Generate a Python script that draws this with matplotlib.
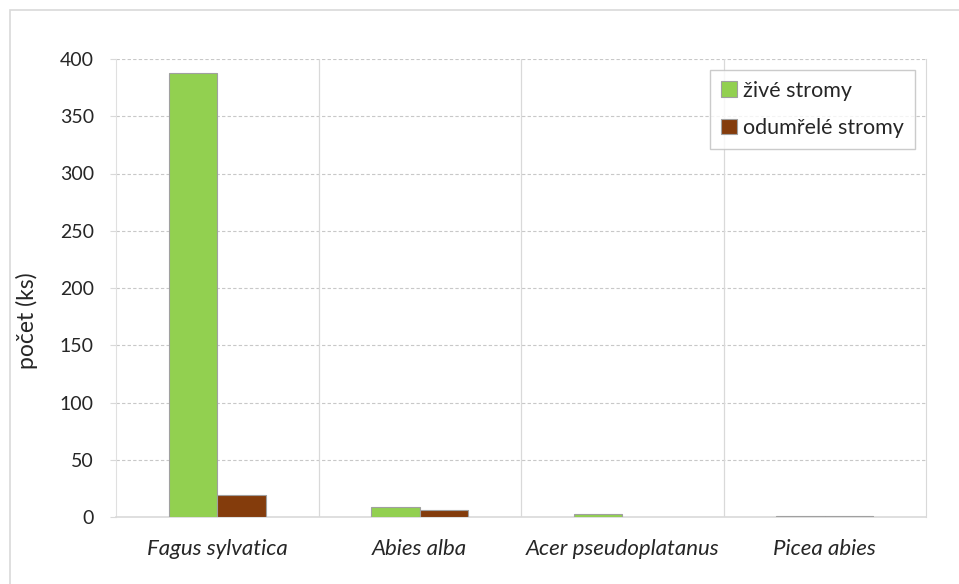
import matplotlib
matplotlib.use("Agg")
import matplotlib.pyplot as plt
import numpy as np
from matplotlib.patches import Rectangle

species = ["Fagus sylvatica", "Abies alba", "Acer pseudoplatanus", "Picea abies"]
live = [388, 9, 3, 1]
dead = [19, 6, 0, 1]
series_names = ["živé stromy", "odumřelé stromy"]
y_ticks = [0, 50, 100, 150, 200, 250, 300, 350, 400]

green = "#92D050"
brown = "#843C0C"
edge = "#A0A0A0"
text_col = "#262626"

plt.rcParams["font.family"] = ["Lato", "DejaVu Sans"]

W, H = 959, 584
fig = plt.figure(figsize=(W / 100, H / 100), dpi=100)
ax = fig.add_axes([116 / W, 1 - 517 / H, (926 - 116) / W, (517 - 59) / H])

x = np.arange(len(species))
bw = 0.24
ax.bar(x - bw / 2, live, bw, color=green, edgecolor=edge, linewidth=0.8,
       label=series_names[0], zorder=3)
ax.bar(x + bw / 2, [d if d > 0 else np.nan for d in dead], bw, color=brown,
       edgecolor=edge, linewidth=0.8, label=series_names[1], zorder=3)

ax.set_xlim(-0.5, len(species) - 0.5)
ax.set_ylim(0, 400)
ax.set_yticks(y_ticks)
ax.set_yticklabels([str(v) for v in y_ticks], fontsize=14, color=text_col)
ax.set_xticks(x)
ax.set_xticklabels(species, fontsize=16, style="italic", color=text_col)
ax.tick_params(axis="x", length=0, pad=16)
ax.tick_params(axis="y", length=4, color="#D9D9D9", pad=12)

# horizontal dashed gridlines, vertical category separators
for v in y_ticks[1:]:
    ax.axhline(v, color="#C8C8C8", linewidth=0.8, linestyle=(0, (3, 2)), zorder=1)
for b in np.arange(0.5, len(species) - 0.5, 1.0):
    ax.axvline(b, color="#D9D9D9", linewidth=0.9, zorder=1)

ax.spines["top"].set_visible(False)
ax.spines["left"].set_color("#E0E0E0")
ax.spines["right"].set_color("#D9D9D9")
ax.spines["bottom"].set_color("#D9D9D9")
ax.spines["bottom"].set_linewidth(1.2)

ax.set_ylabel("počet (ks)", fontsize=16.5, color=text_col)
ax.yaxis.set_label_coords((38 - 116) / (926 - 116), (517 - 321) / (517 - 59))

leg = ax.legend(loc="upper right",
                bbox_to_anchor=((915 - 116) / (926 - 116), (517 - 70) / (517 - 59)),
                fontsize=15.5, frameon=True, fancybox=False, edgecolor="#BFBFBF",
                handlelength=0.75, handleheight=0.75, handletextpad=0.3,
                labelspacing=0.8, borderpad=0.5, borderaxespad=0)
for t in leg.get_texts():
    t.set_color(text_col)
leg.get_frame().set_linewidth(1.0)

# chart border
fig.patches.append(Rectangle((10 / W, -0.01), 1.0, 1 - 10 / H + 0.01,
                             transform=fig.transFigure, fill=False,
                             edgecolor="#D9D9D9", linewidth=1.2))

fig.savefig("out.png", dpi=100)
